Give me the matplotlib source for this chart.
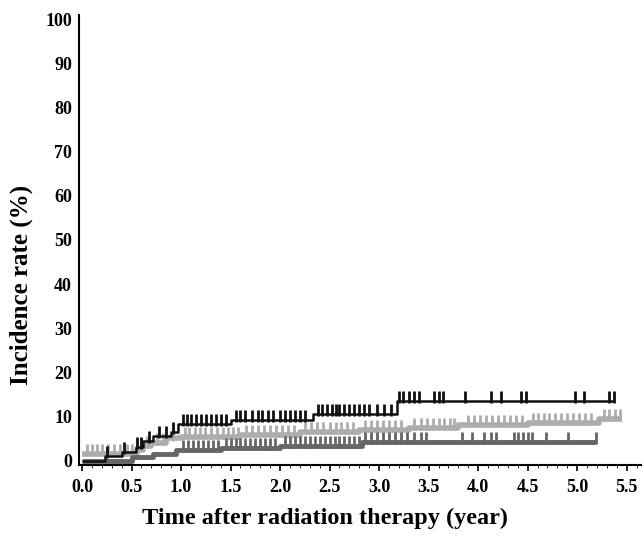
import numpy as np
import matplotlib
matplotlib.use("Agg")
import matplotlib.pyplot as plt
from matplotlib.ticker import MultipleLocator

# step curves: event times (year) and cumulative incidence (%)
black_t = [0.0, 0.23, 0.40, 0.55, 0.62, 0.72, 0.90, 0.97, 1.50, 2.33, 3.18, 5.37]
black_y = [0.0, 1.0, 2.0, 3.0, 4.5, 5.5, 6.5, 8.3, 9.3, 10.5, 13.6, 13.6]

light_t = [0.0, 0.56, 0.62, 0.70, 0.85, 1.00, 1.60, 2.20, 2.80, 3.30, 3.80, 4.50, 5.22, 5.45]
light_y = [1.6, 2.5, 3.2, 4.0, 5.0, 5.4, 5.9, 6.4, 6.9, 7.4, 8.0, 8.5, 9.5, 9.5]

dark_t = [0.0, 0.50, 0.72, 0.95, 1.40, 2.00, 2.83, 5.19]
dark_y = [0.0, 0.8, 1.5, 2.3, 2.9, 3.4, 4.3, 4.3]

# censoring times (year)
black_cens = [0.25, 0.42, 0.56, 0.60, 0.68, 0.78, 0.85, 0.92, 1.02, 1.06, 1.10, 1.15,
              1.20, 1.25, 1.30, 1.35, 1.40, 1.45, 1.55, 1.60, 1.65, 1.72, 1.78, 1.82,
              1.88, 1.93, 2.00, 2.05, 2.10, 2.15, 2.20, 2.25, 2.38, 2.42, 2.47, 2.52,
              2.56, 2.60, 2.65, 2.70, 2.75, 2.80, 2.85, 2.90, 2.98, 3.05, 3.12, 3.20,
              3.24, 3.30, 3.35, 3.40, 3.55, 3.60, 3.64, 3.87, 4.13, 4.23, 4.43, 4.48,
              4.98, 5.07, 5.32, 5.37]
light_cens = [0.05, 0.10, 0.15, 0.20, 0.26, 0.32, 0.38, 0.45, 0.50, 0.66, 0.76, 0.82,
              0.92, 1.04, 1.08, 1.14, 1.19, 1.24, 1.30, 1.36, 1.42, 1.47, 1.52, 1.58,
              1.66, 1.72, 1.78, 1.84, 1.90, 1.96, 2.02, 2.08, 2.14, 2.25, 2.31, 2.37,
              2.43, 2.50, 2.56, 2.62, 2.68, 2.74, 2.86, 2.92, 2.98, 3.04, 3.10, 3.16,
              3.22, 3.35, 3.42, 3.48, 3.54, 3.60, 3.66, 3.72, 3.76, 3.90, 3.96, 4.02,
              4.08, 4.14, 4.20, 4.26, 4.32, 4.38, 4.44, 4.55, 4.60, 4.66, 4.72, 4.78,
              4.84, 4.90, 4.96, 5.02, 5.08, 5.14, 5.27, 5.32, 5.38, 5.43]
dark_cens = [1.02, 1.07, 1.12, 1.17, 1.22, 1.27, 1.32, 1.37, 1.45, 1.50, 1.55, 1.60,
             1.65, 1.70, 1.75, 1.80, 1.85, 1.90, 1.95, 2.05, 2.10, 2.15, 2.20, 2.25,
             2.30, 2.35, 2.40, 2.45, 2.50, 2.55, 2.60, 2.65, 2.70, 2.75, 2.80, 2.86,
             2.92, 2.98, 3.04, 3.10, 3.16, 3.22, 3.28, 3.35, 3.42, 3.47, 3.84, 3.94,
             4.06, 4.13, 4.18, 4.36, 4.40, 4.45, 4.50, 4.54, 4.69, 4.91, 5.19]

x_ticks = [0.0, 0.5, 1.0, 1.5, 2.0, 2.5, 3.0, 3.5, 4.0, 4.5, 5.0, 5.5]
y_ticks = [0, 10, 20, 30, 40, 50, 60, 70, 80, 90, 100]

plt.rcParams['font.family'] = ['Liberation Serif', 'DejaVu Serif']
plt.rcParams['font.weight'] = 'bold'

fig = plt.figure(figsize=(6.44, 5.36), dpi=100)
ax = fig.add_axes([0.1227, 0.1325, 0.872, 0.84])


def level_at(times, levels, c):
    idx = np.searchsorted(times, c, side='right') - 1
    return np.array(levels)[idx]


curves = [
    (light_t, light_y, light_cens, '#adadad', 4.0),
    (dark_t, dark_y, dark_cens, '#666666', 3.5),
    (black_t, black_y, black_cens, '#111111', 1.8),
]
for t, yv, cens, col, lw in curves:
    ax.step(t, yv, where='post', color=col, lw=lw, solid_capstyle='butt')
    ax.plot(cens, level_at(t, yv, cens) + 0.9, ls='none', marker='|',
            ms=9, mew=2.0, color=col)

ax.set_xlim(-0.03, 5.64)
ax.set_ylim(-1, 101)
ax.set_xticks(x_ticks)
ax.set_xticklabels([f"{v:.1f}" for v in x_ticks])
ax.xaxis.set_minor_locator(MultipleLocator(0.1))
ax.set_yticks(y_ticks)
ax.tick_params(axis='both', labelsize=13, width=1.2)
ax.tick_params(axis='x', which='major', length=4, pad=6)
ax.tick_params(axis='x', which='minor', length=2)
ax.tick_params(axis='y', length=0, pad=5)
for s in ['top', 'right']:
    ax.spines[s].set_visible(False)
for s in ['left', 'bottom']:
    ax.spines[s].set_linewidth(1.5)

ax.set_xlabel('Time after radiation therapy (year)', fontsize=17.5, fontweight='bold')
ax.xaxis.set_label_coords(0.438, -0.095)
ax.set_ylabel('Incidence rate (%)', fontsize=18, fontweight='bold')
ax.yaxis.set_label_coords(-0.082, 0.40)

fig.savefig("out.png", dpi=100)
